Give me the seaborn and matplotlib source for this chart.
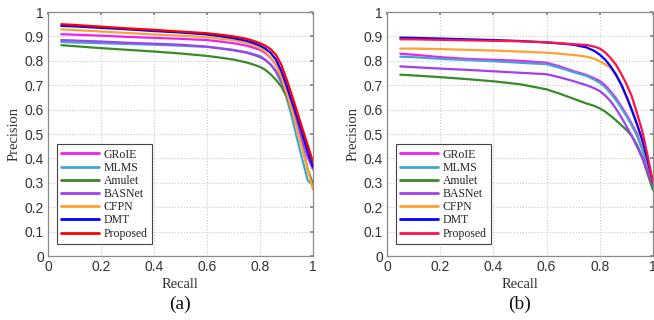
import numpy as np
import pandas as pd
import seaborn as sns
import matplotlib
matplotlib.use("Agg")
import matplotlib.pyplot as plt

# datos
recall = [0.05, 0.1, 0.2, 0.3, 0.4, 0.5, 0.6, 0.65, 0.7, 0.75, 0.78,
          0.8, 0.82, 0.84, 0.86, 0.88, 0.9, 0.92, 0.94, 0.96, 0.98, 1.0]
metodos = ["GRoIE", "MLMS", "Amulet", "BASNet", "CFPN", "DMT", "Proposed"]

# panel (a)
prec_a = {
    "GRoIE":    [0.909, 0.907, 0.903, 0.898, 0.894, 0.890, 0.885, 0.879, 0.872, 0.862, 0.852,
                 0.845, 0.832, 0.812, 0.783, 0.740, 0.685, 0.620, 0.550, 0.480, 0.410, 0.360],
    "MLMS":     [0.877, 0.875, 0.872, 0.869, 0.866, 0.862, 0.857, 0.851, 0.845, 0.835, 0.826,
                 0.820, 0.805, 0.785, 0.755, 0.710, 0.650, 0.570, 0.480, 0.395, 0.310, 0.290],
    "Amulet":   [0.864, 0.860, 0.852, 0.845, 0.838, 0.830, 0.820, 0.813, 0.805, 0.793, 0.783,
                 0.775, 0.763, 0.745, 0.722, 0.695, 0.656, 0.600, 0.530, 0.450, 0.355, 0.295],
    "BASNet":   [0.885, 0.883, 0.879, 0.874, 0.870, 0.866, 0.858, 0.851, 0.843, 0.833, 0.823,
                 0.815, 0.803, 0.785, 0.758, 0.720, 0.668, 0.605, 0.540, 0.472, 0.405, 0.355],
    "CFPN":     [0.929, 0.926, 0.920, 0.914, 0.908, 0.903, 0.897, 0.891, 0.885, 0.873, 0.862,
                 0.852, 0.838, 0.815, 0.783, 0.735, 0.670, 0.600, 0.520, 0.440, 0.355, 0.272],
    "DMT":      [0.943, 0.941, 0.935, 0.929, 0.922, 0.916, 0.908, 0.901, 0.893, 0.882, 0.871,
                 0.862, 0.850, 0.833, 0.805, 0.760, 0.700, 0.635, 0.570, 0.500, 0.430, 0.365],
    "Proposed": [0.950, 0.947, 0.940, 0.933, 0.927, 0.920, 0.913, 0.907, 0.900, 0.890, 0.880,
                 0.872, 0.862, 0.848, 0.825, 0.785, 0.725, 0.660, 0.592, 0.522, 0.455, 0.385],
}

# panel (b)
prec_b = {
    "GRoIE":    [0.829, 0.825, 0.815, 0.808, 0.804, 0.800, 0.792, 0.777, 0.758, 0.742, 0.728,
                 0.717, 0.700, 0.675, 0.648, 0.615, 0.580, 0.542, 0.500, 0.440, 0.370, 0.300],
    "MLMS":     [0.817, 0.815, 0.808, 0.803, 0.798, 0.792, 0.786, 0.771, 0.754, 0.738, 0.722,
                 0.710, 0.692, 0.668, 0.640, 0.608, 0.573, 0.535, 0.493, 0.435, 0.365, 0.290],
    "Amulet":   [0.743, 0.740, 0.733, 0.725, 0.716, 0.704, 0.683, 0.665, 0.645, 0.625, 0.615,
                 0.605, 0.592, 0.575, 0.557, 0.537, 0.517, 0.492, 0.455, 0.405, 0.335, 0.270],
    "BASNet":   [0.777, 0.774, 0.768, 0.763, 0.757, 0.751, 0.745, 0.732, 0.717, 0.700, 0.687,
                 0.676, 0.658, 0.635, 0.605, 0.570, 0.532, 0.492, 0.448, 0.400, 0.345, 0.290],
    "CFPN":     [0.850, 0.850, 0.848, 0.845, 0.842, 0.838, 0.833, 0.829, 0.824, 0.817, 0.808,
                 0.798, 0.785, 0.772, 0.740, 0.700, 0.650, 0.595, 0.535, 0.470, 0.385, 0.300],
    "DMT":      [0.895, 0.894, 0.891, 0.888, 0.885, 0.881, 0.875, 0.871, 0.866, 0.855, 0.840,
                 0.825, 0.805, 0.778, 0.745, 0.705, 0.655, 0.600, 0.540, 0.475, 0.390, 0.300],
    "Proposed": [0.888, 0.888, 0.886, 0.884, 0.882, 0.880, 0.876, 0.872, 0.868, 0.865, 0.858,
                 0.850, 0.835, 0.812, 0.785, 0.748, 0.705, 0.655, 0.585, 0.510, 0.410, 0.300],
}

colores_a = ["#f020f0", "#40a8d0", "#3a8a2a", "#a040f0", "#ffa030", "#0000ff", "#ff0000"]
colores_b = ["#f020f0", "#40a8d0", "#3a8a2a", "#a040f0", "#ffa030", "#0000ff", "#ff1048"]


def a_tabla(prec):
    filas = []
    for m in metodos:
        for r, p in zip(recall, prec[m]):
            filas.append({"Recall": r, "Precision": p, "Metodo": m})
    return pd.DataFrame(filas)


sns.set_theme(style="white")
plt.rcParams["font.family"] = ["Liberation Serif", "DejaVu Serif"]

fig = plt.figure(figsize=(6.54, 3.2), dpi=100)
ax_a = fig.add_axes([48 / 654, 64 / 320, 265 / 654, 244 / 320])
ax_b = fig.add_axes([387 / 654, 64 / 320, 266 / 654, 244 / 320])

for ax, prec, colores, letra in [(ax_a, prec_a, colores_a, "(a)"),
                                 (ax_b, prec_b, colores_b, "(b)")]:
    df = a_tabla(prec)
    sns.lineplot(data=df, x="Recall", y="Precision", hue="Metodo",
                 hue_order=metodos, palette=colores, sort=False,
                 estimator=None, linewidth=1.6, solid_joinstyle="round", ax=ax)

    ax.set_xlim(0, 1)
    ax.set_ylim(0, 1)
    ax.set_xticks(np.arange(0, 1.01, 0.2))
    ax.set_xticklabels(["0", "0.2", "0.4", "0.6", "0.8", "1"],
                       family="Liberation Sans", fontsize=10, color="#333333")
    ax.set_yticks(np.arange(0, 1.01, 0.1))
    ax.set_yticklabels(["0", "0.1", "0.2", "0.3", "0.4", "0.5", "0.6", "0.7",
                        "0.8", "0.9", "1"],
                       family="Liberation Sans", fontsize=10, color="#333333")
    ax.tick_params(direction="in", length=2.5, top=True, right=True,
                   color="#888888", pad=3)
    ax.grid(True, linestyle=":", color="#c8c8c8", linewidth=0.8)
    for s in ax.spines.values():
        s.set_color("#8a8a8a")
        s.set_linewidth(0.9)
    ax.set_xlabel("Recall", fontsize=10.5, color="#333333", labelpad=3)
    ax.set_ylabel("Precision", fontsize=10.5, color="#333333", labelpad=3)

    ley = ax.legend(loc="lower left", bbox_to_anchor=(0.035, 0.05),
                    fontsize=8.5, frameon=True, fancybox=False,
                    handlelength=3.2, handletextpad=0.4, labelspacing=0.1,
                    borderpad=0.35, borderaxespad=0)
    ley.get_frame().set_edgecolor("#444444")
    ley.get_frame().set_linewidth(0.8)
    ley.get_frame().set_alpha(1)
    for h in ley.get_lines():
        h.set_linewidth(2)

    pos = ax.get_position()
    fig.text(pos.x0 + pos.width / 2, 0.05, letra, ha="center", va="center",
             fontsize=14, color="#111111")

fig.savefig("out.png", dpi=100)
